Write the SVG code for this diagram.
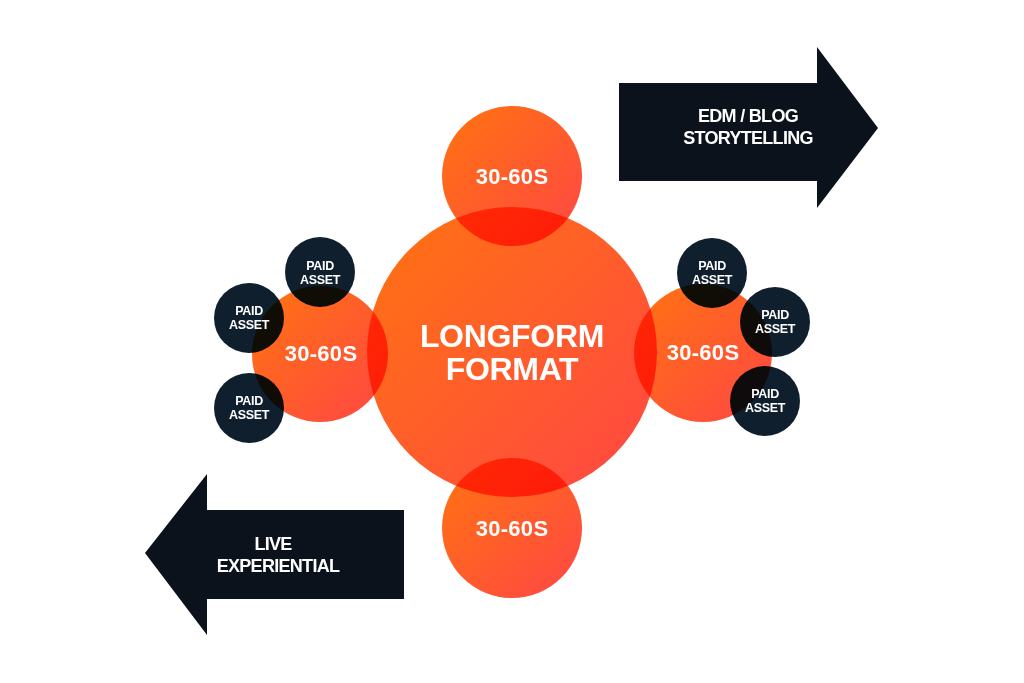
<svg xmlns="http://www.w3.org/2000/svg" width="1024" height="683" viewBox="0 0 1024 683">
  <defs>
    <linearGradient id="og" x1="0" y1="0" x2="1" y2="1">
      <stop offset="0" stop-color="#ff7410"/>
      <stop offset="1" stop-color="#ff4645"/>
    </linearGradient>
  </defs>
  <style>
    .orb { fill: url(#og); mix-blend-mode: multiply; }
    .paid { fill: #0f1f2e; mix-blend-mode: multiply; }
    .arrow { fill: #0b121b; }
    text { font-family: "Liberation Sans", Arial, sans-serif; font-weight: bold; fill: #ffffff; text-anchor: middle; }
    .big { font-size: 32px; letter-spacing: -0.3px; }
    .mid { font-size: 22px; letter-spacing: 0.3px; }
    .small { font-size: 12.5px; letter-spacing: -0.3px; }
    .arr { font-size: 18px; letter-spacing: -0.7px; }
  </style>
  <rect width="1024" height="683" fill="#ffffff"/>

  <g id="arrow-edm">
    <polygon class="arrow" points="619,83 817,83 817,47 878,128 817,208 817,181 619,181"/>
    <text class="arr" x="748" y="122">EDM / BLOG</text>
    <text class="arr" x="748" y="144">STORYTELLING</text>
  </g>

  <g id="arrow-live">
    <polygon class="arrow" points="404,510 207,510 207,474 145,553 207,635 207,599 404,599"/>
    <text class="arr" x="273" y="550">LIVE</text>
    <text class="arr" x="278" y="572">EXPERIENTIAL</text>
  </g>

  <g id="circles" style="isolation:isolate">
    <g id="center">
      <circle class="orb" cx="512" cy="352" r="145"/>
    </g>
    <g id="top">
      <circle class="orb" cx="512" cy="176" r="70"/>
    </g>
    <g id="bottom">
      <circle class="orb" cx="512" cy="528" r="70"/>
    </g>
    <g id="left">
      <circle class="orb" cx="320" cy="354" r="68"/>
    </g>
    <g id="right">
      <circle class="orb" cx="703" cy="353" r="69"/>
    </g>
    <g id="paid-l1"><circle class="paid" cx="320" cy="272" r="35"/></g>
    <g id="paid-l2"><circle class="paid" cx="249" cy="318" r="35"/></g>
    <g id="paid-l3"><circle class="paid" cx="249" cy="408" r="35"/></g>
    <g id="paid-r1"><circle class="paid" cx="712" cy="273" r="35"/></g>
    <g id="paid-r2"><circle class="paid" cx="775" cy="322" r="35"/></g>
    <g id="paid-r3"><circle class="paid" cx="765" cy="401" r="35"/></g>
  </g>

  <g id="labels">
    <text class="big" x="512" y="347">LONGFORM</text>
    <text class="big" x="512" y="380">FORMAT</text>
    <text class="mid" x="512" y="184">30-60S</text>
    <text class="mid" x="512" y="536">30-60S</text>
    <text class="mid" x="321" y="361">30-60S</text>
    <text class="mid" x="703" y="360">30-60S</text>
    <text class="small" x="320" y="270">PAID</text>
    <text class="small" x="320" y="284">ASSET</text>
    <text class="small" x="249" y="315">PAID</text>
    <text class="small" x="249" y="329">ASSET</text>
    <text class="small" x="249" y="405">PAID</text>
    <text class="small" x="249" y="419">ASSET</text>
    <text class="small" x="712" y="270">PAID</text>
    <text class="small" x="712" y="284">ASSET</text>
    <text class="small" x="775" y="319">PAID</text>
    <text class="small" x="775" y="333">ASSET</text>
    <text class="small" x="765" y="398">PAID</text>
    <text class="small" x="765" y="412">ASSET</text>
  </g>
</svg>
